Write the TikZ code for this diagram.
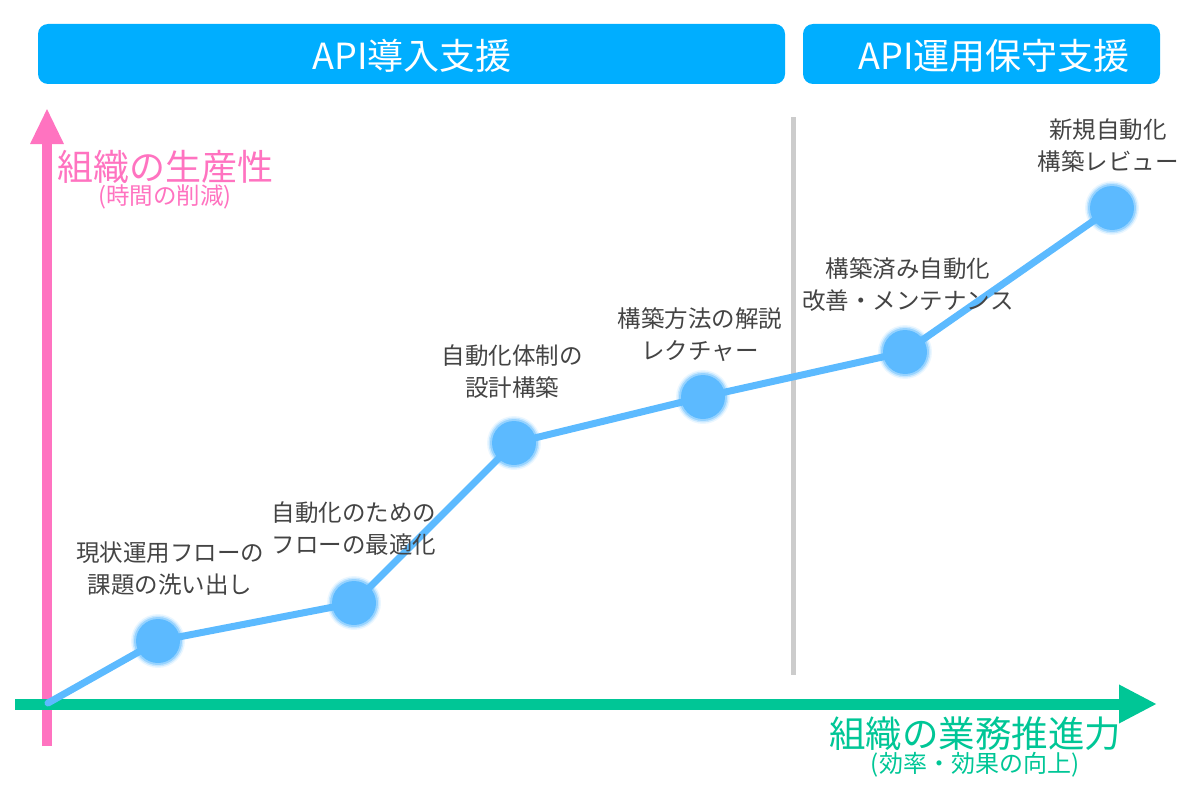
\documentclass[tikz,border=0pt]{standalone}
\usepackage{fontspec}
\setmainfont{Noto Sans CJK JP}
\usetikzlibrary{arrows.meta}
\definecolor{hdrblue}{RGB}{0,174,255}
\definecolor{axpink}{RGB}{255,115,192}
\definecolor{axgreen}{RGB}{0,198,150}
\definecolor{ptblue}{RGB}{92,186,255}
\definecolor{sepgray}{RGB}{204,204,204}
\definecolor{lblgray}{RGB}{68,68,68}
\tikzset{
  hdr/.style={fill=hdrblue, rounded corners=10pt, draw=none},
  hdrtext/.style={text=white, font=\fontsize{36}{40}\selectfont, inner sep=0pt},
  pt/.style={circle, fill=ptblue, minimum size=44pt, inner sep=0pt, draw=none},
  halo/.style={circle, fill=ptblue, opacity=#1, inner sep=0pt, draw=none},
  lbl/.style={text=lblgray, align=center, font=\fontsize{23.5}{32}\selectfont, inner sep=0pt},
  link/.style={draw=ptblue, line width=7pt, line cap=round, line join=round},
}
\begin{document}
\begin{tikzpicture}[x=1pt,y=-1pt]
\useasboundingbox (0,0) rectangle (1200,800);
% headers
\draw[hdr] (38,24) rectangle (785,84);
\draw[hdr] (803,24) rectangle (1160,84);
\node[hdrtext] (h1) at (412,56) {API導入支援};
\node[hdrtext] (h2) at (994,56) {API運用保守支援};
% separator
\draw[sepgray, line width=5pt] (793,117) -- (793,675);
% axes
\coordinate (yb) at (47,746);
\coordinate (yt) at (47,108);
\draw[axpink, line width=10pt, -{Triangle[length=36pt,width=31pt]}] (yb) -- (yt);
\coordinate (xl) at (15,704);
\coordinate (xr) at (1157,704);
\draw[axgreen, line width=11pt, -{Triangle[length=38pt,width=36pt]}] (xl) -- (xr);
\node[text=axpink, font=\fontsize{36}{40}\selectfont, inner sep=0pt] (yl) at (165,167) {組織の生産性};
\node[text=axpink, font=\fontsize{23.5}{26}\selectfont, inner sep=0pt] (yl2) at (165,197) {(時間の削減)};
\node[text=axgreen, font=\fontsize{36.5}{40}\selectfont, inner sep=0pt] (xlab) at (975,734) {組織の業務推進力};
\node[text=axgreen, font=\fontsize{24}{26}\selectfont, inner sep=0pt] (xlab2) at (975,765) {(効率・効果の向上)};
% points
\coordinate (o) at (48,703);
\coordinate (c1) at (158,641);
\coordinate (c2) at (354,603);
\coordinate (c3) at (514,443);
\coordinate (c4) at (703,397);
\coordinate (c5) at (905,352);
\coordinate (c6) at (1112,208);
\draw[link] (o) -- (c1) -- (c2) -- (c3) -- (c4) -- (c5) -- (c6);
\foreach \c in {c1,c2,c3,c4,c5,c6}{
  \node[halo=0.12, minimum size=54pt] at (\c) {};
  \node[halo=0.25, minimum size=51pt] at (\c) {};
  \node[halo=0.45, minimum size=48pt] at (\c) {};
}
\node[pt] (p1) at (c1) {};
\node[pt] (p2) at (c2) {};
\node[pt] (p3) at (c3) {};
\node[pt] (p4) at (c4) {};
\node[pt] (p5) at (c5) {};
\node[pt] (p6) at (c6) {};
% labels
\node[lbl] (l1) at (170,569) {現状運用フローの\\課題の洗い出し};
\node[lbl] (l2) at (354,529) {自動化のための\\フローの最適化};
\node[lbl] (l3) at (512,372) {自動化体制の\\設計構築};
\node[lbl] (l4) at (700,335) {構築方法の解説\\レクチャー};
\node[lbl] (l5) at (908,285) {構築済み自動化\\改善・メンテナンス};
\node[lbl] (l6) at (1108,146) {新規自動化\\構築レビュー};
\end{tikzpicture}
\end{document}
